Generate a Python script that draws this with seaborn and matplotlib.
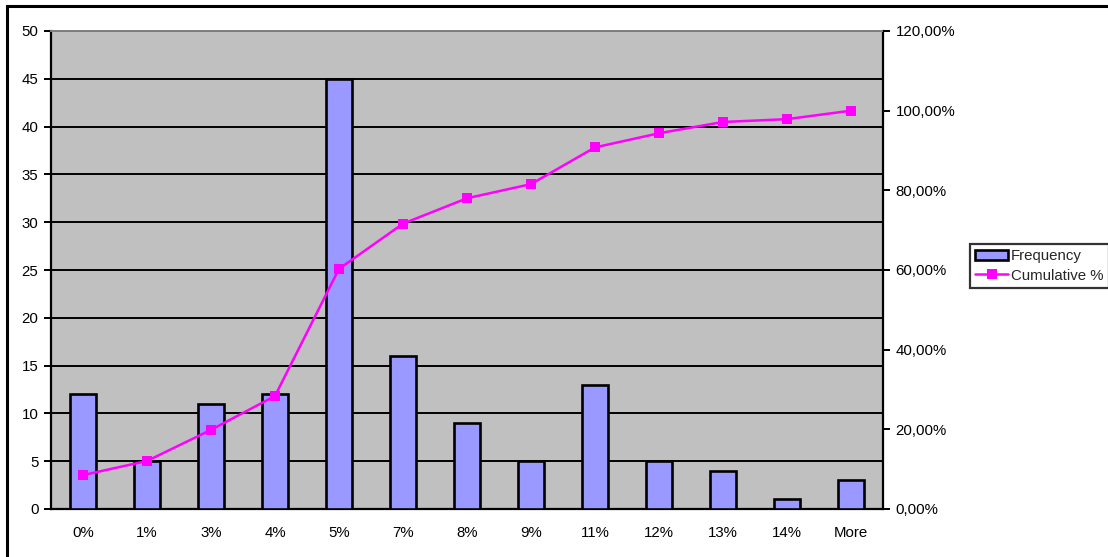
import matplotlib
matplotlib.use("Agg")
import matplotlib.pyplot as plt
import matplotlib.patches as mpatches
from matplotlib.lines import Line2D
from matplotlib.ticker import FuncFormatter, MultipleLocator
import seaborn as sns
import pandas as pd

bins = ["0%", "1%", "3%", "4%", "5%", "7%", "8%", "9%", "11%", "12%", "13%", "14%", "More"]
frequency = [12, 5, 11, 12, 45, 16, 9, 5, 13, 5, 4, 1, 3]
cumulative = [0.0851, 0.1206, 0.1986, 0.2837, 0.6028, 0.7163, 0.7801,
              0.8156, 0.9078, 0.9433, 0.9716, 0.9787, 1.0]

sns.set_theme(style="white")
plt.rcParams["font.family"] = ["Liberation Sans", "DejaVu Sans"]
FS = 10.8
plt.rcParams["font.size"] = FS

df = pd.DataFrame({"bin": bins, "Frequency": frequency, "Cumulative %": cumulative})

fig = plt.figure(figsize=(11.08, 5.57), dpi=100)
# outer chart frame
fig.patches.append(mpatches.Rectangle((7 / 1108, -0.1), 1.2, 1 - 6 / 557 + 0.1,
                                      transform=fig.transFigure, fill=False,
                                      edgecolor="black", linewidth=2.2, zorder=0))

ax = fig.add_axes([51 / 1108, 1 - 509 / 557, (883 - 51) / 1108, (509 - 31) / 557])
ax.set_facecolor("#C0C0C0")

sns.barplot(data=df, x="bin", y="Frequency", ax=ax, color="#9999FF",
            saturation=1, width=0.42, edgecolor="black", linewidth=1.9, zorder=3)

ax.set_xlim(-0.5, len(bins) - 0.5)
ax.set_ylim(0, 50)
ax.yaxis.set_major_locator(MultipleLocator(5))
ax.set_xlabel("")
ax.set_ylabel("")
ax.grid(axis="y", color="black", linewidth=1.4, zorder=1)
ax.set_axisbelow(True)

# x ticks sit between categories, labels centred under bars
ax.set_xticks([i - 0.5 for i in range(len(bins) + 1)], minor=False)
ax.set_xticklabels([])
ax.set_xticks(range(len(bins)), minor=True)
ax.set_xticklabels(bins, minor=True)
ax.tick_params(axis="x", which="major", direction="out", length=5, width=1.4, color="black")
ax.tick_params(axis="x", which="minor", length=0, pad=12, labelsize=FS, labelcolor="black")
ax.tick_params(axis="y", direction="out", length=5, width=1.4, color="black",
               labelsize=FS, labelcolor="black", pad=4, left=True)

for side in ["left", "right", "bottom"]:
    ax.spines[side].set_visible(True)
    ax.spines[side].set_color("black")
    ax.spines[side].set_linewidth(1.6)
ax.spines["top"].set_color("#808080")
ax.spines["top"].set_linewidth(1.4)

ax2 = ax.twinx()
sns.lineplot(data=df, x="bin", y="Cumulative %", ax=ax2, color="#FF00FF",
             marker="s", markersize=7, markeredgewidth=0, linewidth=1.8,
             sort=False, zorder=4)
ax2.set_ylim(0, 1.2)
ax2.yaxis.set_major_locator(MultipleLocator(0.2))
ax2.yaxis.set_major_formatter(FuncFormatter(lambda v, p: f"{v * 100:.2f}%".replace(".", ",")))
ax2.set_ylabel("")
ax2.set_xlabel("")
ax2.tick_params(axis="y", direction="out", length=5, width=1.4, color="black",
                labelsize=FS, labelcolor="black", right=True, pad=4)
ax2.grid(False)
for s in ax2.spines.values():
    s.set_visible(False)
if ax2.get_legend():
    ax2.get_legend().remove()
if ax.get_legend():
    ax.get_legend().remove()

handles = [
    mpatches.Patch(facecolor="#9999FF", edgecolor="black", linewidth=1.9, label="Frequency"),
    Line2D([0], [0], color="#FF00FF", marker="s", markersize=7, markeredgewidth=0,
           linewidth=1.8, label="Cumulative %"),
]
leg = fig.legend(handles=handles, loc="upper left",
                 bbox_to_anchor=(970 / 1108, 1 - 244 / 557),
                 frameon=True, fancybox=False, fontsize=FS, borderpad=0.35,
                 handlelength=2.2, handleheight=0.6, handletextpad=0.2,
                 labelspacing=0.35, borderaxespad=0)
leg.get_frame().set_edgecolor("black")
leg.get_frame().set_linewidth(1.6)

fig.savefig("out.png", dpi=100, facecolor="white")
